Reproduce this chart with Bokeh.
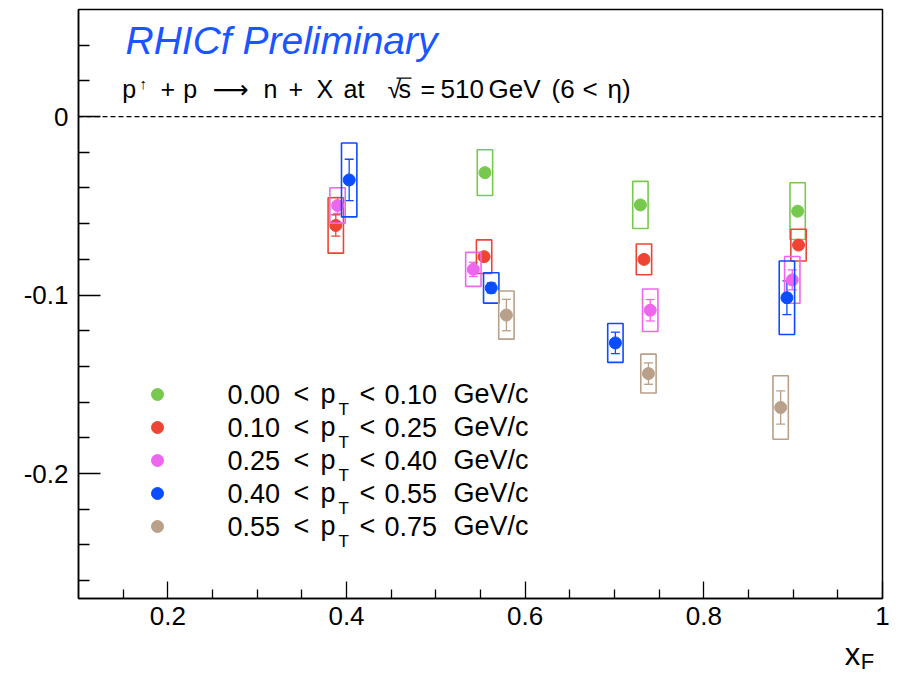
from bokeh.plotting import figure
from bokeh.layouts import column
from bokeh.models import (Range1d, FixedTicker, CustomJSTickFormatter, Span, Whisker, TeeHead,
                          ColumnDataSource, Legend, LegendItem, Label, BoxAnnotation)
from bokeh.embed import file_html
from bokeh.resources import INLINE

# ---------------- data ----------------
pt_low = ["0.00", "0.10", "0.25", "0.40", "0.55"]
pt_high = ["0.10", "0.25", "0.40", "0.55", "0.75"]
colors = ["#77c94e", "#ee4433", "#ee66ee", "#0a4cff", "#b8a08a"]

xf_0 = [0.555, 0.729, 0.905]
an_0 = [-0.0314, -0.0495, -0.0530]
stat_0 = [0.002, 0.002, 0.002]
sys_0 = [0.0128, 0.0132, 0.0159]

xf_1 = [0.388, 0.554, 0.733, 0.906]
an_1 = [-0.0610, -0.0785, -0.0800, -0.0720]
stat_1 = [0.006, 0.002, 0.002, 0.002]
sys_1 = [0.0155, 0.0094, 0.0086, 0.0089]

xf_2 = [0.390, 0.542, 0.740, 0.899]
an_2 = [-0.0498, -0.0856, -0.1085, -0.0915]
stat_2 = [0.0045, 0.004, 0.006, 0.0056]
sys_2 = [0.0099, 0.0095, 0.0119, 0.0131]

xf_3 = [0.403, 0.562, 0.701, 0.893]
an_3 = [-0.0355, -0.0960, -0.1268, -0.1015]
stat_3 = [0.0116, 0.0028, 0.006, 0.0095]
sys_3 = [0.0207, 0.0085, 0.0109, 0.0206]

xf_4 = [0.579, 0.738, 0.886]
an_4 = [-0.1112, -0.1440, -0.1630]
stat_4 = [0.0088, 0.006, 0.0093]
sys_4 = [0.0135, 0.0109, 0.0178]

x_major = [0.2, 0.4, 0.6, 0.8, 1.0]
x_minor = [0.15, 0.25, 0.3, 0.35, 0.45, 0.5, 0.55, 0.65, 0.7, 0.75, 0.85, 0.9, 0.95]
y_major = [-0.2, -0.1, 0.0]
y_minor = [-0.26, -0.24, -0.22, -0.18, -0.16, -0.14, -0.12, -0.08, -0.06,
           -0.04, -0.02, 0.02, 0.04]

series = [
    (xf_0, an_0, stat_0, sys_0),
    (xf_1, an_1, stat_1, sys_1),
    (xf_2, an_2, stat_2, sys_2),
    (xf_3, an_3, stat_3, sys_3),
    (xf_4, an_4, stat_4, sys_4),
]

# ---------------- layout helpers (picture pixel -> data) ----------------
X0, X1, Y0, Y1 = 0.1, 1.0, -0.27, 0.06
FR_L, FR_T, FR_W, FR_H = 78.0, 9.0, 804.0, 589.0
W, H_MAIN, H_STRIP = 892, 636, 38


def DX(px):
    return X0 + (px - FR_L) * (X1 - X0) / FR_W


def DY(py):
    return Y1 - (py - FR_T) * (Y1 - Y0) / FR_H


FONT = "Liberation Sans"
MID = 0.35  # label anchor sits this fraction of the font size above the baseline

p = figure(width=W, height=H_MAIN, x_range=Range1d(X0, X1), y_range=Range1d(Y0, Y1),
           output_backend="svg", toolbar_location=None,
           min_border_left=int(FR_L), min_border_right=int(W - FR_L - FR_W),
           min_border_top=int(FR_T), min_border_bottom=int(H_MAIN - FR_T - FR_H))
p.xgrid.visible = False
p.ygrid.visible = False
p.background_fill_color = "white"
p.border_fill_color = "white"
p.outline_line_color = "black"
p.outline_line_width = 1.5

fmt = CustomJSTickFormatter(code="""
if (Math.abs(tick) < 1e-9) return '0';
if (Math.abs(tick - 1) < 1e-9) return '1';
return tick.toFixed(1);
""")

for ax in (p.xaxis[0], p.yaxis[0]):
    ax.formatter = fmt
    ax.axis_line_color = "black"
    ax.axis_line_width = 1.5
    ax.major_tick_line_color = "black"
    ax.minor_tick_line_color = "black"
    ax.major_tick_line_width = 1.3
    ax.minor_tick_line_width = 1.3
    ax.major_tick_out = 0
    ax.minor_tick_out = 0
    ax.major_label_text_font = FONT
    ax.major_label_text_font_size = "26px"
    ax.major_label_text_color = "black"

p.xaxis.ticker = FixedTicker(ticks=x_major, minor_ticks=x_minor)
p.yaxis.ticker = FixedTicker(ticks=y_major, minor_ticks=y_minor)
p.xaxis.major_tick_in = 17
p.xaxis.minor_tick_in = 9
p.yaxis.major_tick_in = 22
p.yaxis.minor_tick_in = 11
p.xaxis.major_label_standoff = 8
p.yaxis.major_label_standoff = 10

p.add_layout(Span(location=0, dimension="width", line_color="black",
                  line_width=1.2, line_dash="5 3"))

legend_items = []
for (xs, ys, st, sy), c in zip(series, colors):
    src = ColumnDataSource(dict(
        x=xs, y=ys,
        h=[2 * s for s in sy],
        upper=[y + e for y, e in zip(ys, st)],
        lower=[y - e for y, e in zip(ys, st)],
    ))
    p.rect("x", "y", width=0.0172, height="h", source=src, fill_alpha=0,
           line_color=c, line_width=1.6)
    w = Whisker(source=src, base="x", upper="upper", lower="lower",
                line_color=c, line_width=1.3, level="underlay",
                upper_head=TeeHead(size=9, line_color=c, line_width=1.3),
                lower_head=TeeHead(size=9, line_color=c, line_width=1.3))
    p.add_layout(w)
    r = p.scatter("x", "y", source=src, size=12, color=c, marker="circle")
    legend_items.append(LegendItem(label=" ", renderers=[r]))

legend = Legend(items=legend_items, location=(64, 57), glyph_width=30, glyph_height=30,
                label_height=30, spacing=3, padding=0, margin=0,
                background_fill_alpha=0, border_line_alpha=0,
                label_text_font_size="8px", label_standoff=0)
p.add_layout(legend)


def add_text(text, px, py, size, font=FONT, style="normal", color="black"):
    # px, py: left edge and baseline in picture pixels
    p.add_layout(Label(x=DX(px), y=DY(py - MID * size), text=text, text_font=font,
                       text_font_size=f"{size}px", text_font_style=style,
                       text_color=color, text_align="left", text_baseline="alphabetic"))


# legend texts
row_centers = [394 + 33 * i for i in range(5)]
for yc, lo, hi in zip(row_centers, pt_low, pt_high):
    b = yc + 9
    add_text(lo, 227, b, 27)
    add_text("<", 293, b, 27)
    add_text("p", 320, b, 27)
    add_text("T", 338, b + 12, 17)
    add_text("<", 359, b, 27)
    add_text(hi, 384, b, 27)
    add_text("GeV/c", 453, b, 27)

# header texts
add_text("RHICf Preliminary", 125, 53.5, 39, style="italic", color="#1a55ff")

b2 = 97.5
add_text("p", 121.7, b2, 25)
add_text("\u2191", 139, 88, 15)
add_text("+", 160, b2, 25)
add_text("p", 182.7, b2, 25)
add_text("\u27f6", 212, b2, 25, font="DejaVu Sans")
add_text("n", 263, b2, 25)
add_text("+", 288, b2, 25)
add_text("X", 316, b2, 25)
add_text("at", 343, b2, 25)
add_text("\u221a", 387, b2, 25)
add_text("s", 398, b2, 25)
p.add_layout(BoxAnnotation(left=DX(396), right=DX(411), top=DY(77), bottom=DY(78.3),
                           fill_color="black", fill_alpha=1, line_color=None))
add_text("=", 420, b2, 25)
add_text("510", 440, b2, 26)
add_text("GeV", 488, b2, 26)
add_text("(6", 551, b2, 26)
add_text("<", 582, b2, 26)
add_text("\u03b7)", 607, b2, 26)

# ---------------- strip below the main plot for the axis title x_F ----------------
s = figure(width=W, height=H_STRIP, x_range=Range1d(0, W), y_range=Range1d(H_STRIP, 0),
           x_axis_type=None, y_axis_type=None, output_backend="svg",
           toolbar_location=None, min_border=0)
s.outline_line_color = None
s.xgrid.visible = False
s.ygrid.visible = False


def strip_text(text, px, py, size):
    s.add_layout(Label(x=px, y=py - H_MAIN - MID * size, text=text, text_font=FONT,
                       text_font_size=f"{size}px", text_color="black",
                       text_align="left", text_baseline="alphabetic"))


strip_text("x", 850, 665, 31)
strip_text("F", 868, 669, 22)

layout = column(p, s, spacing=0)
open("out.html", "w").write(file_html(layout, INLINE))
